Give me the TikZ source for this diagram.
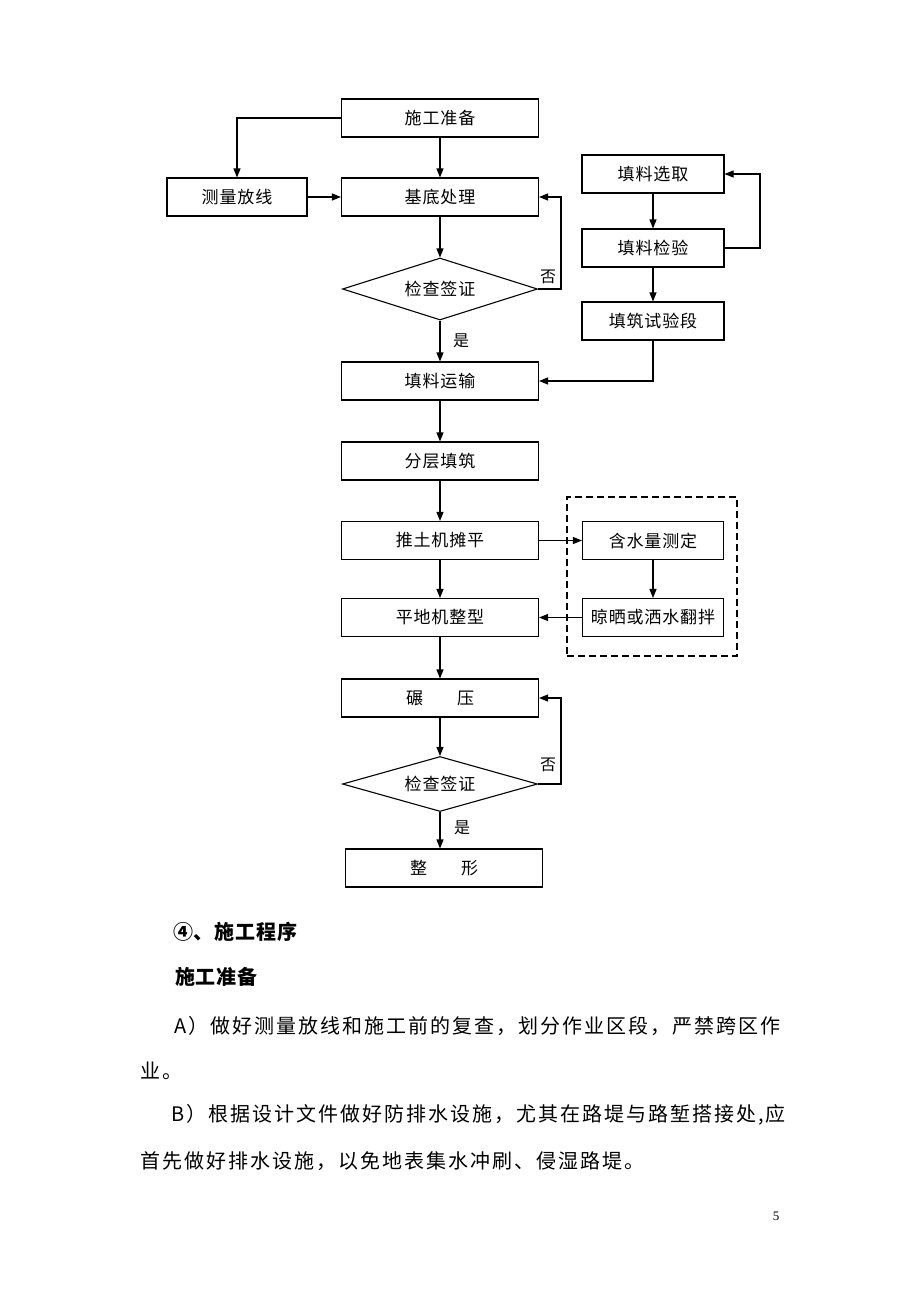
\documentclass[tikz,border=0pt]{standalone}
\usepackage{fontspec}
\setmainfont{Liberation Serif}
\newfontfamily\cjk{Noto Sans CJK SC}
\usetikzlibrary{arrows.meta,shapes.geometric}
\tikzset{
  box/.style={draw, line width=1.1pt, minimum width=197pt, minimum height=38pt, inner sep=0pt,
    font=\cjk\fontsize{17}{19}\selectfont\addfontfeature{LetterSpace=5}},
  sbox/.style={box, minimum width=142pt},
  dia/.style={draw, line width=1.1pt, diamond, aspect=3.15, minimum width=195pt, minimum height=62pt, inner sep=0pt,
    font=\cjk\fontsize{17}{19}\selectfont\addfontfeature{LetterSpace=5}},
  arr/.style={line width=1.1pt, -{Triangle[length=9pt,width=7pt]}},
  ln/.style={line width=1.1pt},
  lbl/.style={font=\cjk\fontsize{16}{18}\selectfont, inner sep=0pt},
  body/.style={anchor=west, inner sep=0pt, font=\cjk\fontsize{20}{24}\selectfont\addfontfeature{LetterSpace=10}},
  head/.style={anchor=west, inner sep=0pt, font=\cjk\bfseries\fontsize{20}{24}\selectfont\addfontfeature{LetterSpace=4}}
}
\begin{document}
\begin{tikzpicture}[x=1pt,y=-1pt]
\useasboundingbox[fill=white] (0,0) rectangle (920,1302);
% left column
\node[box] (sg) at (440,118) {施工准备};
\node[box, minimum width=140pt] (cl) at (237,197) {测量放线};
\node[box] (jd) at (440,197) {基底处理};
\node[dia] (d1) at (440,289) {检查签证};
\node[box] (ys) at (440,381) {填料运输};
\node[box] (fc) at (440,461) {分层填筑};
\node[box] (tt) at (440,540.5) {推土机摊平};
\node[box] (pd) at (440,617.5) {平地机整型};
\node[box] (ny) at (440,698) {碾\hspace{34pt}压};
\node[dia, aspect=3.55, minimum height=55pt] (d2) at (440,784) {检查签证};
\node[box] (zx) at (444,868) {整\hspace{34pt}形};
% right column
\node[sbox] (xq) at (653,174) {填料选取};
\node[sbox] (jy) at (653,248) {填料检验};
\node[sbox] (sy) at (653,321) {填筑试验段};
\node[sbox, minimum width=141pt] (hs) at (653,540.5) {含水量测定};
\node[sbox, minimum width=141pt] (ls) at (653,617.5) {晾晒或洒水翻拌};
\node[draw, dash pattern=on 7pt off 4pt, line width=1.1pt, minimum width=170pt, minimum height=159pt, inner sep=0pt] (db) at (652,576.5) {};
% connectors
\draw[arr] (sg.west) -| (cl.north);
\draw[arr] (sg) -- (jd);
\draw[arr] (cl) -- (jd);
\draw[arr] (jd) -- (d1);
\coordinate (c1) at (561,289);
\draw[arr] (d1.east) -- (c1) |- (jd.east);
\node[lbl] (n1) at (548,277) {否};
\draw[arr] (d1) -- (ys);
\node[lbl] (y1) at (461,341) {是};
\draw[arr] (xq) -- (jy);
\draw[arr] (jy) -- (sy);
\coordinate (c2) at (760,248);
\draw[arr] (jy.east) -- (c2) |- (xq.east);
\draw[arr] (sy.south) |- (ys.east);
\draw[arr] (ys) -- (fc);
\draw[arr] (fc) -- (tt);
\draw[arr] (tt) -- (pd);
\draw[arr] (tt.east) -- (hs.west);
\draw[arr] (hs) -- (ls);
\draw[arr] (ls.west) -- (pd.east);
\draw[arr] (pd) -- (ny);
\draw[arr] (ny) -- (d2);
\coordinate (c3) at (561,784);
\draw[arr] (d2.east) -- (c3) |- (ny.east);
\node[lbl] (n2) at (548,765) {否};
\draw[arr] (d2.south) -- (d2.south |- zx.north);
\node[lbl] (y2) at (462,828) {是};
% text
\node[head] (h1) at (173,932) {④、施工程序};
\node[head] (h2) at (175,977) {施工准备};
\node[body] (t1) at (174,1026) {A）做好测量放线和施工前的复查，划分作业区段，严禁跨区作};
\node[body] (t2) at (140,1071) {业。};
\node[body] (t3) at (171,1115) {B）根据设计文件做好防排水设施，尤其在路堤与路堑搭接处,应};
\node[body] (t4) at (140,1161) {首先做好排水设施，以免地表集水冲刷、侵湿路堤。};
\node[font=\fontsize{13}{15}\selectfont, inner sep=0pt] (pg) at (776,1216) {5};
\end{tikzpicture}
\end{document}
